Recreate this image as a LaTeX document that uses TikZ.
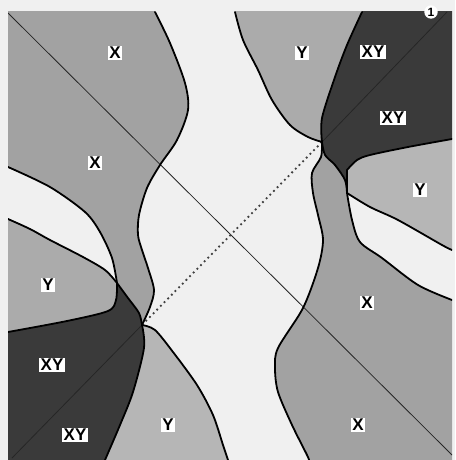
\documentclass[tikz,border=0pt]{standalone}
\usepackage{fontspec}
\setmainfont{Liberation Sans}
\definecolor{paper}{HTML}{F0F0F0}
\definecolor{xgray}{HTML}{A2A2A2}
\definecolor{ygray}{HTML}{ABABAB}
\definecolor{ylight}{HTML}{B6B6B6}
\definecolor{xydark}{HTML}{3A3A3A}
\tikzset{
  border/.style={draw=black,line width=1.8pt,line join=round,line cap=round},
  diag/.style={draw=black!85,line width=0.8pt},
  dotline/.style={draw=black!75,line width=1.8pt,dash pattern=on 1.8pt off 3.4pt},
  lbl/.style={fill=white,inner sep=1.5pt,font=\fontsize{17}{17}\selectfont\bfseries}
}
\begin{document}
\begin{tikzpicture}[x=1pt,y=-1pt]
  \useasboundingbox (0,0) rectangle (455,460);
  \fill[paper] (0,0) rectangle (455,460);
  \coordinate (p1) at (142,325);
  \coordinate (p2) at (322,142);
  \coordinate (tl) at (8,13);
  \coordinate (br) at (452,455);
  \coordinate (bl) at (12,458);
  \coordinate (tr) at (447,12);
  \begin{scope}
    \clip (8,12) rectangle (452,460);
    \fill[xgray] (0,0) -- (155,0) -- plot[smooth] coordinates {(155,12) (170,43) (185,83) (188,110) (177,140) (160,165) (147,188) (139,215) (138,235) (142,250) (148,268) (154,290) (150,307) (142,325)} -- plot[smooth] coordinates {(142,325) (139,313) (128,298) (117,283)} -- plot[smooth] coordinates {(117,283) (112,258) (100,232) (85,212) (50,187) (8,167)} -- (0,167) -- cycle;
    \fill[ygray] (0,219) -- plot[smooth] coordinates {(8,219) (30,229) (50,240) (83,257) (105,270) (117,283)} -- plot[smooth] coordinates {(117,283) (116,300) (108,311) (67,321) (8,332)} -- (0,332) -- cycle;
    \fill[xydark] (0,332) -- plot[smooth] coordinates {(8,332) (67,321) (108,311) (116,300) (117,283)} -- plot[smooth] coordinates {(117,283) (128,298) (139,313) (142,325)} -- plot[smooth] coordinates {(142,325) (144,348) (133,392) (120,425) (105,460)} -- (105,470) -- (0,470) -- cycle;
    \fill[ylight] (105,470) -- plot[smooth] coordinates {(105,460) (120,425) (133,392) (144,348) (142,325)} -- plot[smooth] coordinates {(142,325) (155,330) (173,352) (197,385) (213,415) (223,445) (228,460)} -- (228,470) -- cycle;
    \fill[ygray] (235,0) -- plot[smooth] coordinates {(235,12) (243,40) (258,70) (272,100) (290,125) (308,137) (322,142)} -- plot[smooth] coordinates {(322,142) (322,118) (335,77) (347,45) (362,12)} -- (362,0) -- cycle;
    \fill[xydark] (362,0) -- plot[smooth] coordinates {(362,12) (347,45) (335,77) (322,118) (322,142)} -- plot[smooth] coordinates {(322,142) (325,155) (335,165) (345,180) (347,193)} -- plot[smooth] coordinates {(347,193) (347,170)} -- plot[smooth] coordinates {(347,170) (357,160) (370,155) (408,147) (452,139)} -- (460,139) -- (460,0) -- cycle;
    \fill[ylight] (460,139) -- plot[smooth] coordinates {(452,139) (408,147) (370,155) (357,160) (347,170)} -- plot[smooth] coordinates {(347,170) (347,193)} -- plot[smooth] coordinates {(347,193) (370,207) (398,220) (442,245) (452,250)} -- (460,250) -- cycle;
    \fill[xgray] (322,142) -- plot[smooth] coordinates {(322,142) (325,155) (335,165) (345,180) (347,193)} -- plot[smooth] coordinates {(347,193) (352,220) (360,242) (382,258) (418,285) (452,300)} -- (460,300) -- (460,470) -- (309,470) -- plot[smooth] coordinates {(309,460) (307,455) (292,425) (278,392) (275,368) (278,348) (303,308) (318,268) (323,240) (318,215) (313,193) (312,173) (321,157) (322,142)} -- cycle;
    \draw[diag] (tl) -- (br);
    \draw[diag] (bl) -- (p1);
    \draw[diag] (p2) -- (tr);
    \draw[dotline] (p1) -- (p2);
    \draw[border] plot[smooth] coordinates {(155,12) (170,43) (185,83) (188,110) (177,140) (160,165) (147,188) (139,215) (138,235) (142,250) (148,268) (154,290) (150,307) (142,325)};
    \draw[border] plot[smooth] coordinates {(8,167) (50,187) (85,212) (100,232) (112,258) (117,283)};
    \draw[border] plot[smooth] coordinates {(117,283) (128,298) (139,313) (142,325)};
    \draw[border] plot[smooth] coordinates {(8,219) (30,229) (50,240) (83,257) (105,270) (117,283)};
    \draw[border] plot[smooth] coordinates {(117,283) (116,300) (108,311) (67,321) (8,332)};
    \draw[border] plot[smooth] coordinates {(142,325) (144,348) (133,392) (120,425) (105,460)};
    \draw[border] plot[smooth] coordinates {(142,325) (155,330) (173,352) (197,385) (213,415) (223,445) (228,460)};
    \draw[border] plot[smooth] coordinates {(235,12) (243,40) (258,70) (272,100) (290,125) (308,137) (322,142)};
    \draw[border] plot[smooth] coordinates {(362,12) (347,45) (335,77) (322,118) (322,142)};
    \draw[border] plot[smooth] coordinates {(452,139) (408,147) (370,155) (357,160) (347,170)};
    \draw[border] plot[smooth] coordinates {(347,170) (347,193)};
    \draw[border] plot[smooth] coordinates {(322,142) (325,155) (335,165) (345,180) (347,193)};
    \draw[border] plot[smooth] coordinates {(347,193) (370,207) (398,220) (442,245) (452,250)};
    \draw[border] plot[smooth] coordinates {(347,193) (352,220) (360,242) (382,258) (418,285) (452,300)};
    \draw[border] plot[smooth] coordinates {(322,142) (321,157) (312,173) (313,193) (318,215) (323,240) (318,268) (303,308) (278,348) (275,368) (278,392) (292,425) (307,455) (309,460)};
  \end{scope}
  \node[lbl] (xa) at (115,53) {X};
  \node[lbl] (xb) at (95,163) {X};
  \node[lbl] (xc) at (367,303) {X};
  \node[lbl] (xd) at (358,425) {X};
  \node[lbl] (ya) at (302,53) {Y};
  \node[lbl] (yb) at (420,190) {Y};
  \node[lbl] (yc) at (48,285) {Y};
  \node[lbl] (yd) at (168,425) {Y};
  \node[lbl] (xya) at (373,52) {XY};
  \node[lbl] (xyb) at (393,118) {XY};
  \node[lbl] (xyc) at (52,365) {XY};
  \node[lbl] (xyd) at (75,435) {XY};
  \node[circle,fill=white,inner sep=1pt,font=\fontsize{12}{12}\selectfont\bfseries] (num) at (431,12) {1};
\end{tikzpicture}
\end{document}
